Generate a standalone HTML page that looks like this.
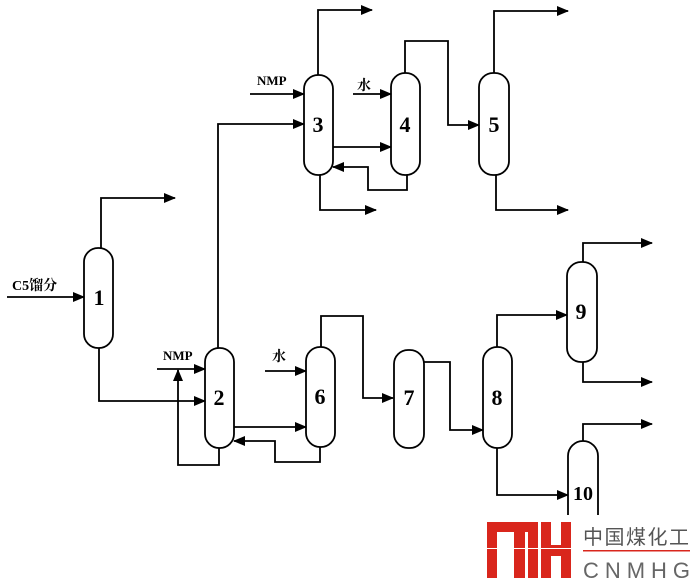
<!DOCTYPE html>
<html><head><meta charset="utf-8"><style>
html,body{margin:0;padding:0;background:#fff;}
svg{display:block;}
.n{font-family:"Liberation Serif",serif;font-weight:bold;font-size:22px;text-anchor:middle;}
.l{font-family:"Liberation Serif","Noto Serif CJK SC",serif;font-weight:bold;font-size:14px;}
</style></head><body>
<svg width="692" height="585" viewBox="0 0 692 585" xmlns="http://www.w3.org/2000/svg">
<defs><marker id="a" markerWidth="12" markerHeight="10" refX="11" refY="5" orient="auto" markerUnits="userSpaceOnUse"><path d="M0,0 L12,5 L0,10 z" fill="#000"/></marker></defs>
<g fill="none" stroke="#000" stroke-width="1.8">
<rect x="84" y="248" width="29" height="100" rx="14" ry="14"/>
<rect x="205" y="348" width="29" height="100" rx="14" ry="14"/>
<rect x="304" y="75" width="29" height="100" rx="14" ry="14"/>
<rect x="391" y="73" width="29" height="102" rx="14" ry="14"/>
<rect x="479" y="73" width="30" height="102" rx="14" ry="14"/>
<rect x="306" y="347" width="29" height="100" rx="14" ry="14"/>
<rect x="394" y="350" width="30" height="98" rx="14" ry="14"/>
<rect x="483" y="347" width="29" height="101" rx="14" ry="14"/>
<rect x="567" y="262" width="30" height="100" rx="14" ry="14"/>
<path d="M568,520 V456 A15,15 0 0 1 598,456 V520"/>
<g marker-end="url(#a)">
<path d="M7,297 H84"/>
<path d="M101,248 V198 H175"/>
<path d="M99,348 V401 H205"/>
<path d="M218,348 V124 H304"/>
<path d="M157,369 H205"/>
<path d="M219,448 V465 H178 V370"/>
<path d="M234,427 H306"/>
<path d="M320,447 V462 H275 V441 H234"/>
<path d="M265,371 H306"/>
<path d="M321,347 V316 H363 V398 H393"/>
<path d="M424,362 H450 V430 H483"/>
<path d="M497,347 V315 H567"/>
<path d="M497,448 V495 H568"/>
<path d="M583,262 V243 H652"/>
<path d="M583,362 V382 H652"/>
<path d="M583,441 V424 H652"/>
<path d="M318,75 V10 H372"/>
<path d="M250,94 H304"/>
<path d="M333,147 H391"/>
<path d="M407,175 V190 H368 V167 H333"/>
<path d="M320,175 V210 H376"/>
<path d="M353,94 H391"/>
<path d="M405,73 V41 H448 V125 H479"/>
<path d="M494,73 V11 H568"/>
<path d="M496,175 V210 H568"/>
</g></g>
<text class="n" x="99" y="305">1</text>
<text class="n" x="219" y="405">2</text>
<text class="n" x="318" y="132">3</text>
<text class="n" x="405" y="132">4</text>
<text class="n" x="494" y="132">5</text>
<text class="n" x="320" y="404">6</text>
<text class="n" x="409" y="405">7</text>
<text class="n" x="497" y="405">8</text>
<text class="n" x="581" y="319">9</text>
<text class="n" x="583" y="500" style="font-size:20px">10</text>
<text class="l" x="12" y="290">C5馏分</text>
<text class="l" x="163" y="360" style="font-size:13px">NMP</text>
<text class="l" x="257" y="85" style="font-size:13px">NMP</text>
<text class="l" x="272" y="361">水</text>
<text class="l" x="357" y="90">水</text>
<rect x="484" y="515" width="208" height="70" fill="#fff"/>
<g fill="#d9261c">
<rect x="487" y="522" width="51" height="10"/>
<rect x="487" y="522" width="10" height="56"/>
<rect x="514" y="522" width="11" height="56"/>
<rect x="528" y="522" width="10" height="56"/>
<rect x="541" y="522" width="10" height="56"/>
<rect x="561" y="522" width="10" height="56"/>
<rect x="541" y="545" width="30" height="11"/>
<rect x="583" y="550" width="107" height="1.5"/>
</g>
<rect x="486" y="548" width="90" height="1" fill="#fff"/>
<text x="583" y="544" font-family="'Noto Sans CJK SC',sans-serif" font-size="20" fill="#555" textLength="106">中国煤化工</text>
<text x="583" y="578" font-family="'Liberation Sans',sans-serif" font-size="22" fill="#666" textLength="107">CNMHG</text>
</svg>
</body></html>
